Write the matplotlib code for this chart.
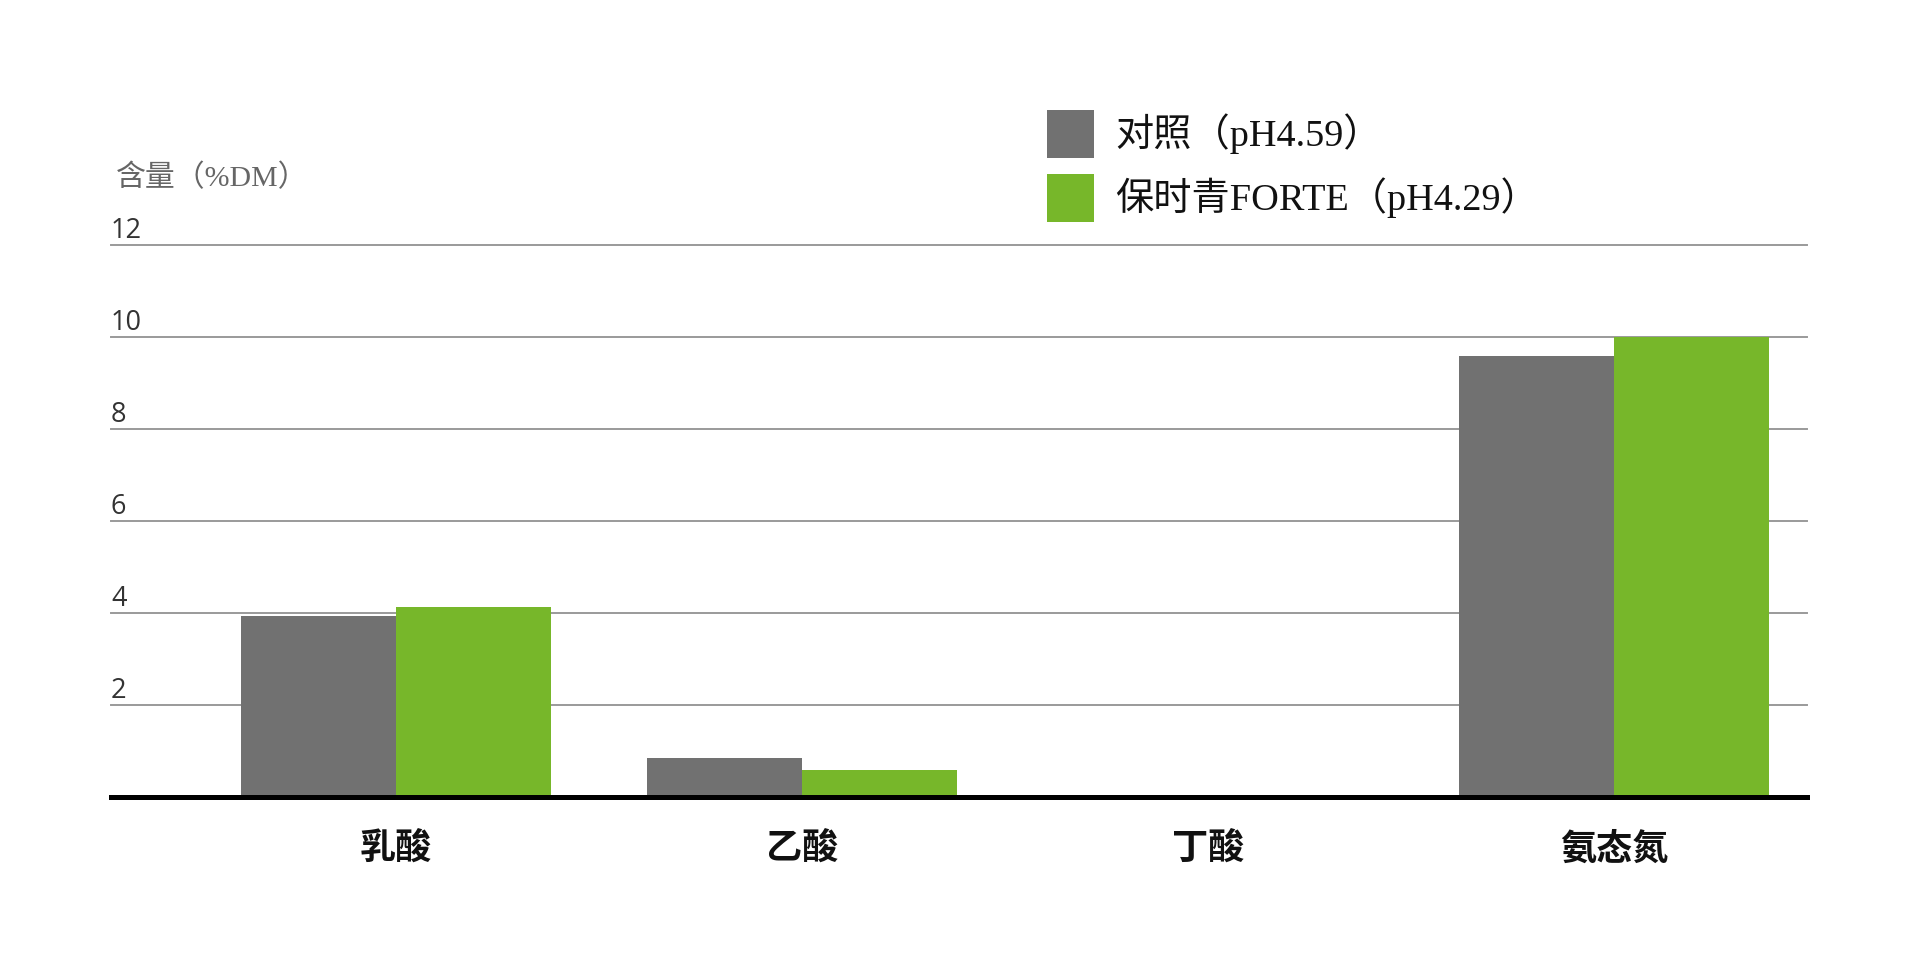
import matplotlib
matplotlib.use("Agg")
import matplotlib.pyplot as plt
import numpy as np

plt.rcParams['font.family'] = ['Noto Sans CJK SC', 'DejaVu Sans']

categories = ["乳酸", "乙酸", "丁酸", "氨态氮"]
control = [3.93, 0.85, 0.0, 9.59]
forte = [4.13, 0.58, 0.0, 10.0]
series_names = ["对照（pH4.59）", "保时青FORTE（pH4.29）"]
yticks = [2, 4, 6, 8, 10, 12]
ytick_labels = ["2", "4", "6", "8", "10", "12"]
y_title = "含量（%DM）"

GRAY = "#717171"
GREEN = "#77b72a"
SERIF_MIX = ["Liberation Serif", "Noto Sans CJK SC"]

fig = plt.figure(figsize=(19.2, 9.6), dpi=100)
ax = fig.add_axes([111/1920, 1-797/960, (1807-111)/1920, (797-245)/960])

x = np.arange(len(categories))
w = 0.382
b1 = ax.bar(x - w/2, control, width=w, color=GRAY, zorder=3, label=series_names[0])
b2 = ax.bar(x + w/2, forte, width=w, color=GREEN, zorder=3, label=series_names[1])

ax.set_xlim(-0.702, 3.475)
ax.set_ylim(0, 12)

for v in yticks:
    ax.axhline(v, color="#9a9a9a", lw=1.4, zorder=1, clip_on=False)
ax.axhline(0, color="black", lw=3.6, zorder=4, clip_on=False)

for s in ax.spines.values():
    s.set_visible(False)
ax.set_yticks([])
ax.set_xticks(x)
ax.set_xticklabels(categories, fontsize=26, fontweight="bold", color="#111111")
ax.tick_params(axis="x", length=0, pad=24)

for v, lab in zip(yticks, ytick_labels):
    ax.text(0.0, v, lab, transform=ax.get_yaxis_transform(), ha="left", va="bottom",
            fontsize=19.5, color="#333333", family=["Open Sans", "DejaVu Sans"])

fig.text(116/1920, 1-178/960, y_title, fontsize=21.5, color="#666666", ha="left", va="center",
         family=SERIF_MIX)

leg = fig.legend(handles=[b1, b2], labels=series_names, loc="upper left",
                 bbox_to_anchor=(1047/1920, 1-110/960), frameon=False,
                 prop={"family": SERIF_MIX, "size": 27.5},
                 handlelength=1.23, handleheight=1.55, handletextpad=0.55, labelspacing=0.42,
                 borderaxespad=0, borderpad=0)
for t in leg.get_texts():
    t.set_color("#111111")

fig.savefig("out.png", dpi=100, facecolor="white")
